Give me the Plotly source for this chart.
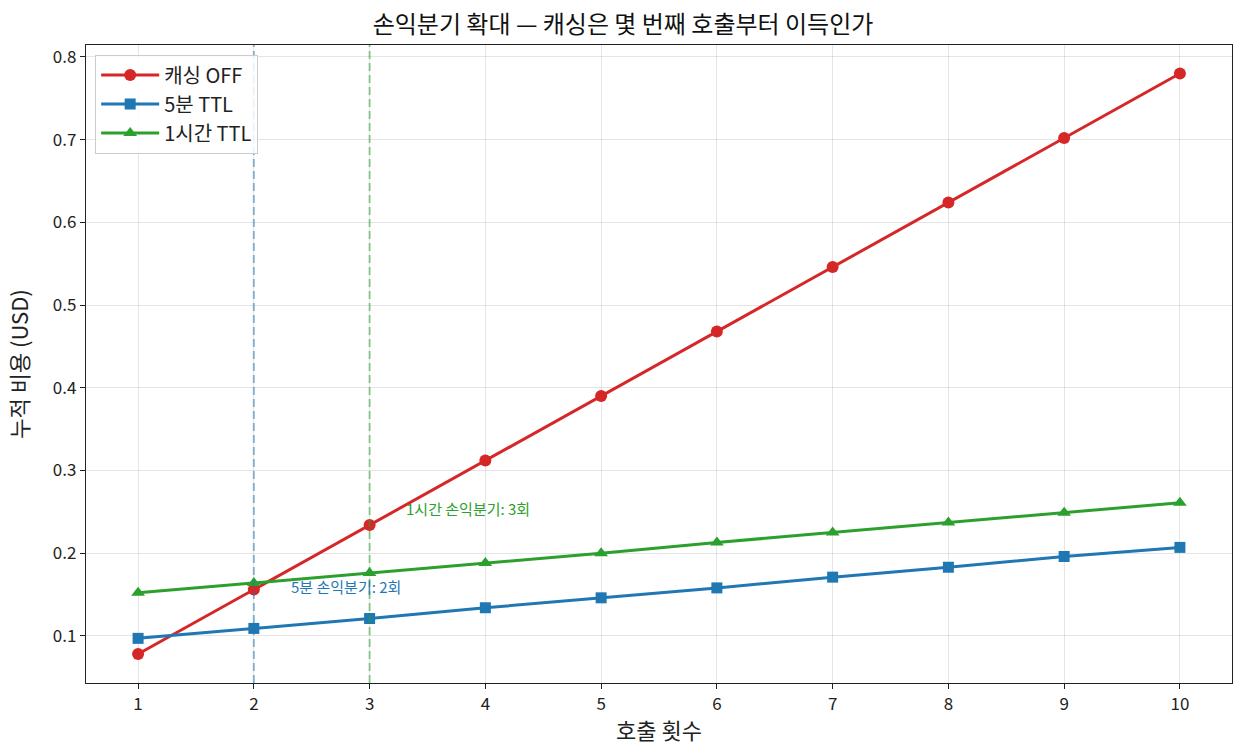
import plotly.graph_objects as go

calls = [1, 2, 3, 4, 5, 6, 7, 8, 9, 10]
cost_off = [0.078, 0.156, 0.234, 0.312, 0.390, 0.468, 0.546, 0.624, 0.702, 0.780]
cost_5m = [0.097, 0.109, 0.121, 0.134, 0.146, 0.158, 0.171, 0.183, 0.196, 0.207]
cost_1h = [0.152, 0.164, 0.176, 0.188, 0.200, 0.213, 0.225, 0.237, 0.249, 0.261]
breakeven_5m = 2
breakeven_1h = 3
names = ["캐싱 OFF", "5분 TTL", "1시간 TTL"]
colors = ["#d62728", "#1f77b4", "#2ca02c"]
symbols = ["circle", "square", "triangle-up"]

FONT = "Noto Sans CJK KR, Noto Sans, sans-serif"

fig = go.Figure()
for name, ys, c, s in zip(names, [cost_off, cost_5m, cost_1h], colors, symbols):
    fig.add_trace(go.Scatter(
        x=calls, y=ys, name=name, mode="lines+markers",
        line=dict(color=c, width=3),
        marker=dict(symbol=s, size=12 if s != "square" else 11, color=c),
    ))

for xv, c in [(breakeven_5m, "rgba(31,119,180,0.5)"), (breakeven_1h, "rgba(44,160,44,0.5)")]:
    fig.add_shape(type="line", x0=xv, x1=xv, y0=0, y1=1, xref="x", yref="paper",
                  line=dict(color=c, width=2, dash="8px,4px"))

fig.add_annotation(x=breakeven_5m + 0.3, y=0.160, text=f"5분 손익분기: {breakeven_5m}회",
                   showarrow=False, xanchor="left", yanchor="middle",
                   font=dict(color="#1f77b4", size=15, family=FONT))
fig.add_annotation(x=breakeven_1h + 0.3, y=0.2535, text=f"1시간 손익분기: {breakeven_1h}회",
                   showarrow=False, xanchor="left", yanchor="middle",
                   font=dict(color="#2ca02c", size=15, family=FONT))

axis_common = dict(
    showline=True, linecolor="#222", linewidth=1.3, mirror=True,
    ticks="outside", ticklen=5, tickcolor="#222",
    showgrid=True, gridcolor="rgba(0,0,0,0.1)", gridwidth=1,
    zeroline=False, tickfont=dict(size=17, color="#222", family=FONT),
)

fig.update_layout(
    width=1246, height=756,
    margin=dict(l=86, r=14, t=45, b=73),
    paper_bgcolor="white", plot_bgcolor="white",
    font=dict(family=FONT, color="#222"),
    title=dict(text="손익분기 확대 — 캐싱은 몇 번째 호출부터 이득인가", x=0.5, xanchor="center",
               y=0.967, yanchor="middle", font=dict(size=24, family=FONT, color="#111")),
    xaxis=dict(title=dict(text="호출 횟수", font=dict(size=22), standoff=10),
               range=[0.55, 10.45], tickvals=calls, **axis_common),
    yaxis=dict(title=dict(text="누적 비용 (USD)", font=dict(size=22), standoff=18),
               range=[0.043, 0.8145], tickvals=[0.1, 0.2, 0.3, 0.4, 0.5, 0.6, 0.7, 0.8],
               ticktext=["0.1", "0.2", "0.3", "0.4", "0.5", "0.6", "0.7", "0.8"], **axis_common),
    legend=dict(x=0.008, y=0.985, xanchor="left", yanchor="top",
                bgcolor="rgba(255,255,255,0.85)", bordercolor="#ccc", borderwidth=1,
                font=dict(size=20, family=FONT), tracegroupgap=4, itemwidth=58),
    showlegend=True,
)

fig.write_html("out.html")
